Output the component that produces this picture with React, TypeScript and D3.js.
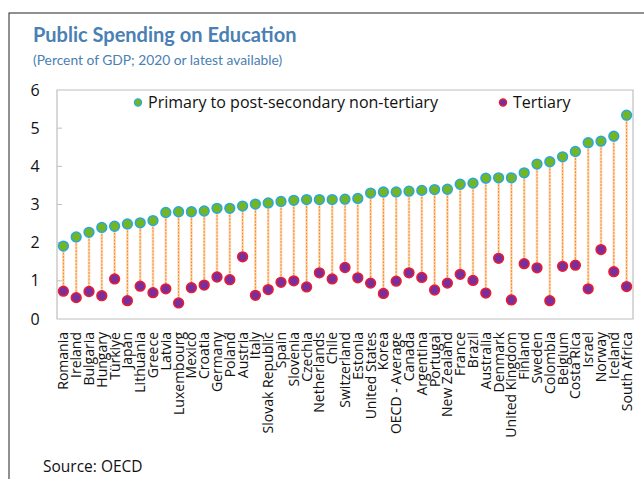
import React from "react";
import * as d3 from "d3";

const countries = [
  "Romania", "Ireland", "Bulgaria", "Hungary", "Türkiye", "Japan", "Lithuania", "Greece",
  "Latvia", "Luxembourg", "Mexico", "Croatia", "Germany", "Poland", "Austria", "Italy",
  "Slovak Republic", "Spain", "Slovenia", "Czechia", "Netherlands", "Chile", "Switzerland",
  "Estonia", "United States", "Korea", "OECD - Average", "Canada", "Argentina", "Portugal",
  "New Zealand", "France", "Brazil", "Australia", "Denmark", "United Kingdom", "Finland",
  "Sweden", "Colombia", "Belgium", "Costa Rica", "Israel", "Norway", "Iceland", "South Africa",
];

const primaryToPostSecondary = [
  1.91, 2.15, 2.27, 2.40, 2.43, 2.49, 2.52, 2.58, 2.79, 2.81, 2.81, 2.83, 2.90, 2.90, 2.96,
  3.01, 3.04, 3.08, 3.11, 3.13, 3.13, 3.13, 3.14, 3.16, 3.30, 3.33, 3.33, 3.35, 3.37, 3.39,
  3.40, 3.53, 3.56, 3.69, 3.70, 3.70, 3.83, 4.06, 4.12, 4.25, 4.39, 4.62, 4.66, 4.79, 5.34,
];

const tertiary = [
  0.73, 0.56, 0.72, 0.61, 1.05, 0.48, 0.86, 0.69, 0.79, 0.42, 0.82, 0.89, 1.10, 1.03, 1.63,
  0.62, 0.77, 0.96, 1.00, 0.84, 1.21, 1.05, 1.35, 1.08, 0.94, 0.67, 0.99, 1.21, 1.09, 0.76,
  0.94, 1.17, 1.01, 0.68, 1.59, 0.50, 1.45, 1.34, 0.48, 1.38, 1.41, 0.79, 1.82, 1.24, 0.85,
];

const yTicks = [0, 1, 2, 3, 4, 5, 6];

const seriesNames = ["Primary to post-secondary non-tertiary", "Tertiary"];

const W = 644;
const H = 479;
const plot = { left: 57, right: 633, top: 90, bottom: 319 };
const font = "'Open Sans', 'Noto Sans', sans-serif";
const headFont = "Lato, 'Open Sans', sans-serif";

const greenFill = "#72b622";
const greenStroke = "#2aa7df";
const purpleFill = "#7a2e9e";
const purpleStroke = "#ec1c2c";
const titleBlue = "#4a80b3";
const axisGray = "#bfbfbf";

export default function App() {
  const x = d3.scaleBand<string>().domain(countries).range([plot.left, plot.right]).padding(0);
  const y = d3.scaleLinear().domain([0, 6]).range([plot.bottom, plot.top]);
  const cx = (c: string) => (x(c) ?? 0) + x.bandwidth() / 2;

  return (
    <svg
      width={W}
      height={H}
      style={{ position: "absolute", left: 0, top: 0, background: "#fff" }}
      fontFamily={font}
    >
      <rect x={9} y={13} width={W} height={H} fill="#fff" stroke="#222" strokeWidth={1} />

      <text x={33} y={42} fontSize={20} fontWeight={700} fill={titleBlue} fontFamily={headFont}>
        Public Spending on Education
      </text>
      <text x={33} y={65} fontSize={13.8} fill={titleBlue} fontFamily={headFont}>
        (Percent of GDP; 2020 or latest available)
      </text>

      {/* plot frame */}
      <path
        d={`M${plot.left},${plot.bottom}V${plot.top}H${plot.right}V${plot.bottom}Z`}
        fill="none"
        stroke={axisGray}
        strokeWidth={1.2}
      />
      {yTicks.map((t) => (
        <g key={t}>
          {t > 0 && t < 6 && (
            <line x1={plot.left} x2={plot.left + 5} y1={y(t)} y2={y(t)} stroke={axisGray} strokeWidth={1} />
          )}
          <text x={35} y={y(t)} dy="0.35em" textAnchor="middle" fontSize={16} fill="#111">
            {t}
          </text>
        </g>
      ))}

      {/* connectors */}
      {countries.map((c, i) => (
        <g key={`l-${c}`}>
          <line
            x1={cx(c)}
            x2={cx(c)}
            y1={y(primaryToPostSecondary[i])}
            y2={y(tertiary[i])}
            stroke="#fdd9b8"
            strokeWidth={2.6}
          />
          <line
            x1={cx(c)}
            x2={cx(c)}
            y1={y(primaryToPostSecondary[i])}
            y2={y(tertiary[i])}
            stroke="#f5891f"
            strokeWidth={1}
            strokeDasharray="2,1.3"
          />
        </g>
      ))}

      {/* markers */}
      {countries.map((c, i) => (
        <g key={`m-${c}`}>
          <circle cx={cx(c)} cy={y(tertiary[i])} r={4.9} fill={purpleFill} stroke={purpleStroke} strokeWidth={1.5} />
          <circle
            cx={cx(c)}
            cy={y(primaryToPostSecondary[i])}
            r={4.9}
            fill={greenFill}
            stroke={greenStroke}
            strokeWidth={1.5}
          />
        </g>
      ))}

      {/* legend */}
      <circle cx={138} cy={102.5} r={3.6} fill={greenFill} stroke={greenStroke} strokeWidth={1.2} />
      <text x={148} y={102.5} dy="0.35em" fontSize={16} fill="#111">
        {seriesNames[0]}
      </text>
      <circle cx={503} cy={102.5} r={3.6} fill={purpleFill} stroke={purpleStroke} strokeWidth={1.2} />
      <text x={513} y={102.5} dy="0.35em" fontSize={16} fill="#111">
        {seriesNames[1]}
      </text>

      {/* category labels */}
      {countries.map((c) => (
        <text
          key={`t-${c}`}
          transform={`translate(${cx(c)},${plot.bottom + 13}) rotate(-90)`}
          textAnchor="end"
          dy="0.35em"
          fontSize={14}
          fill="#111"
        >
          {c}
        </text>
      ))}

      <text x={43} y={472} fontSize={15.5} fill="#111">
        Source: OECD
      </text>
    </svg>
  );
}
